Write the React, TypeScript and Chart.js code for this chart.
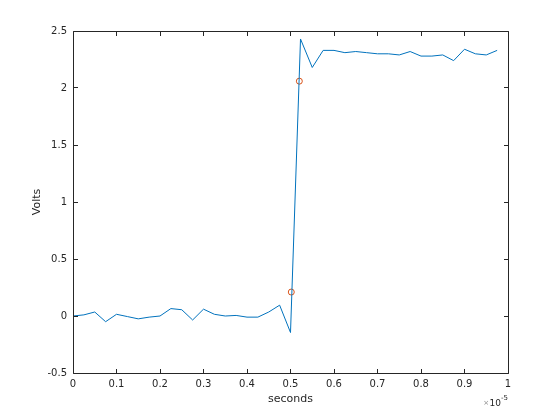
import React, { useEffect, useRef } from "react";
import { Chart, registerables } from "chart.js";

Chart.register(...registerables);

// time in units of 1e-5 s
const timeE5 = [
  0, 0.025, 0.05, 0.075, 0.1, 0.125, 0.15, 0.175, 0.2, 0.225,
  0.25, 0.275, 0.3, 0.325, 0.35, 0.375, 0.4, 0.425, 0.45, 0.475,
  0.5, 0.523, 0.55, 0.575, 0.6, 0.625, 0.65, 0.675, 0.7, 0.725,
  0.75, 0.775, 0.8, 0.825, 0.85, 0.875, 0.9, 0.925, 0.95, 0.975,
];
const volts = [
  0.0, 0.01, 0.035, -0.05, 0.015, -0.005, -0.025, -0.01, 0.0, 0.065,
  0.055, -0.035, 0.06, 0.015, 0.0, 0.005, -0.01, -0.01, 0.035, 0.095,
  -0.145, 2.43, 2.18, 2.33, 2.33, 2.31, 2.32, 2.31, 2.3, 2.3,
  2.29, 2.32, 2.28, 2.28, 2.29, 2.24, 2.34, 2.3, 2.29, 2.33,
];
const crossTimeE5 = [0.5018, 0.5203];
const crossVolts = [0.21, 2.06];

const xTicks = [0, 0.1, 0.2, 0.3, 0.4, 0.5, 0.6, 0.7, 0.8, 0.9, 1];
const yTicks = [-0.5, 0, 0.5, 1, 1.5, 2, 2.5];
const xTitle = "seconds";
const yTitle = "Volts";
const xExponent = "-5";

const AXIS_COLOR = "#262626";
const FONT = "DejaVu Sans";

const boxPlugin = {
  id: "matlabBox",
  afterDraw(chart: any) {
    const { ctx, chartArea } = chart;
    const xs = chart.scales.x;
    const ys = chart.scales.y;
    const L = Math.floor(chartArea.left) + 0.5;
    const R = Math.floor(chartArea.right) + 0.5;
    const T = Math.floor(chartArea.top) + 0.5;
    const B = Math.floor(chartArea.bottom) + 0.5;
    const tl = 4.5;
    ctx.save();
    ctx.strokeStyle = AXIS_COLOR;
    ctx.lineWidth = 1;
    ctx.beginPath();
    ctx.rect(L, T, R - L, B - T);
    for (const v of xTicks) {
      const px = Math.floor(xs.getPixelForValue(v)) + 0.5;
      ctx.moveTo(px, B);
      ctx.lineTo(px, B - tl);
      ctx.moveTo(px, T);
      ctx.lineTo(px, T + tl);
    }
    for (const v of yTicks) {
      const py = Math.floor(ys.getPixelForValue(v)) + 0.5;
      ctx.moveTo(L, py);
      ctx.lineTo(L + tl, py);
      ctx.moveTo(R, py);
      ctx.lineTo(R - tl, py);
    }
    ctx.stroke();

    // exponent label ×10^-5
    const rx = Math.floor(chartArea.right);
    ctx.textBaseline = "alphabetic";
    ctx.textAlign = "right";
    ctx.font = `7px ${FONT}`;
    ctx.fillStyle = AXIS_COLOR;
    const supW = ctx.measureText(xExponent).width;
    ctx.fillText(xExponent, rx, 400);
    ctx.font = `9px ${FONT}`;
    const tenX = rx - supW;
    ctx.fillText("10", tenX, 406);
    const tenW = ctx.measureText("10").width;
    ctx.font = `7px ${FONT}`;
    ctx.fillStyle = "#8c8c8c";
    ctx.fillText("×", tenX - tenW - 0.5, 405);
    ctx.restore();
  },
};

export default function App() {
  const ref = useRef<HTMLCanvasElement | null>(null);

  useEffect(() => {
    document.body.style.margin = "0";
    const canvas = ref.current;
    if (!canvas) return;
    const chart = new Chart(canvas, {
      type: "line",
      data: {
        datasets: [
          {
            data: timeE5.map((t, i) => ({ x: t, y: volts[i] })),
            borderColor: "#0072BD",
            borderWidth: 1,
            pointRadius: 0,
            fill: false,
            tension: 0,
          },
          {
            data: crossTimeE5.map((t, i) => ({ x: t, y: crossVolts[i] })),
            showLine: false,
            pointStyle: "circle",
            pointRadius: 3,
            pointBorderWidth: 1,
            pointBorderColor: "#D95319",
            pointBackgroundColor: "rgba(0,0,0,0)",
            borderColor: "#D95319",
          },
        ],
      },
      plugins: [boxPlugin],
      options: {
        responsive: false,
        animation: false,
        devicePixelRatio: 1,
        layout: { padding: { left: 0, top: 31, right: 52, bottom: 0 } },
        plugins: {
          legend: { display: false },
          tooltip: { enabled: false },
        },
        scales: {
          x: {
            type: "linear",
            min: 0,
            max: 1,
            grid: { display: false, drawTicks: false },
            border: { display: false },
            afterFit: (s: any) => {
              s.height = 47;
            },
            afterBuildTicks: (s: any) => {
              s.ticks = xTicks.map((v) => ({ value: v }));
            },
            ticks: {
              autoSkip: false,
              maxRotation: 0,
              padding: 5,
              color: AXIS_COLOR,
              font: { family: FONT, size: 10 },
              callback: (v: any) => String(v),
            },
            title: {
              display: true,
              text: xTitle,
              color: AXIS_COLOR,
              font: { family: FONT, size: 11 },
              padding: { top: 0, bottom: 14 },
            },
          },
          y: {
            type: "linear",
            min: -0.5,
            max: 2.5,
            grid: { display: false, drawTicks: false },
            border: { display: false },
            afterFit: (s: any) => {
              s.width = 73;
            },
            afterBuildTicks: (s: any) => {
              s.ticks = yTicks.map((v) => ({ value: v }));
            },
            ticks: {
              autoSkip: false,
              padding: 6,
              color: AXIS_COLOR,
              font: { family: FONT, size: 10 },
              callback: (v: any) => String(v),
            },
            title: {
              display: true,
              text: yTitle,
              color: AXIS_COLOR,
              font: { family: FONT, size: 11 },
              padding: { top: 31, bottom: 0 },
            },
          },
        },
      },
    });
    return () => chart.destroy();
  }, []);

  return (
    <div style={{ position: "fixed", left: 0, top: 0, width: 560, height: 420, background: "#fff" }}>
      <canvas ref={ref} width={560} height={420} style={{ width: 560, height: 420 }} />
    </div>
  );
}
